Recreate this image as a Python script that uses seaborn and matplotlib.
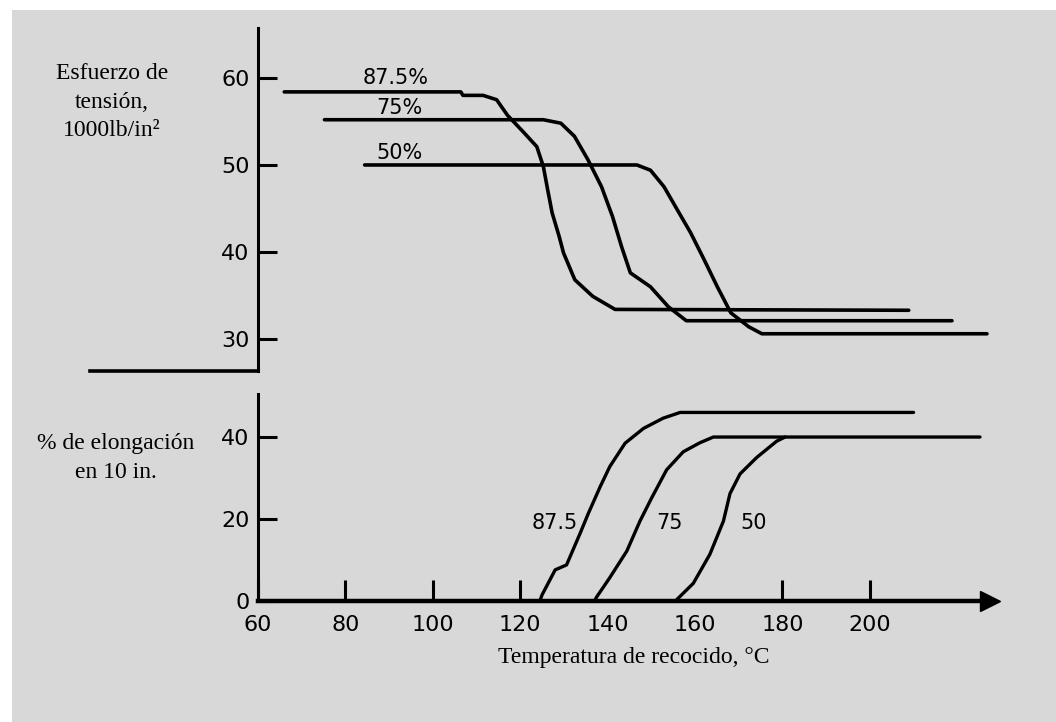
import numpy as np
import pandas as pd
import seaborn as sns
import matplotlib
matplotlib.use("Agg")
import matplotlib.pyplot as plt
from matplotlib.patches import Rectangle

# Tensile strength (1000 lb/in^2) vs annealing temperature, per cold-work level
temp_875_top = [66, 106.4, 106.9, 111.5, 114.6, 117.1, 120.7, 123.8, 125.3, 126.3,
                127.3, 128.9, 129.9, 132.5, 136.6, 141.7, 208.9]
tens_875 = [58.4, 58.4, 58.0, 58.0, 57.5, 55.7, 53.8, 52.1, 49.8, 47.1,
            44.5, 41.8, 39.9, 36.8, 34.9, 33.4, 33.3]
temp_75_top = [75.2, 125.3, 129.3, 132.4, 135.5, 138.6, 141.1, 143.2, 145.2, 149.8,
               153.9, 158.0, 218.8]
tens_75 = [55.2, 55.2, 54.8, 53.3, 50.6, 47.5, 44.1, 40.6, 37.6, 36.0, 33.7, 32.1, 32.1]
temp_50_top = [84.4, 146.7, 149.8, 152.9, 156.0, 159.0, 162.1, 165.1, 168.2, 172.3,
               175.3, 226.8]
tens_50 = [50.0, 50.0, 49.4, 47.5, 44.8, 42.2, 39.1, 36.0, 33.0, 31.4, 30.6, 30.6]

# Elongation (% in 10 in.) vs annealing temperature
temp_875_bot = [124.5, 125.0, 128.0, 130.6, 133.7, 135.6, 138.3, 140.5, 144.0, 148.2,
                152.7, 156.6, 210.0]
elong_875 = [0, 1.5, 7.6, 8.8, 16.5, 21.4, 27.9, 32.8, 38.5, 42.1, 44.6, 46.0, 46.0]
temp_75_bot = [137.0, 137.5, 140.5, 144.4, 147.4, 150.1, 153.5, 157.3, 161.1, 164.2, 225.2]
elong_75 = [0, 1.0, 5.7, 12.2, 19.5, 25.2, 32.0, 36.4, 38.6, 40.0, 40.0]
temp_50_bot = [155.5, 159.6, 163.4, 166.5, 168.0, 170.3, 174.1, 178.7, 180.6]
elong_50 = [0, 4.3, 11.4, 19.5, 26.2, 31.0, 35.0, 39.0, 40.0]

levels = ["87.5", "75", "50"]
x_ticks = [60, 80, 100, 120, 140, 160, 180, 200]
top_yticks = [30, 40, 50, 60]
bot_yticks = [0, 20, 40]

top_df = pd.concat([
    pd.DataFrame({"temp": temp_875_top, "val": tens_875, "level": "87.5"}),
    pd.DataFrame({"temp": temp_75_top, "val": tens_75, "level": "75"}),
    pd.DataFrame({"temp": temp_50_top, "val": tens_50, "level": "50"}),
])
bot_df = pd.concat([
    pd.DataFrame({"temp": temp_875_bot, "val": elong_875, "level": "87.5"}),
    pd.DataFrame({"temp": temp_75_bot, "val": elong_75, "level": "75"}),
    pd.DataFrame({"temp": temp_50_bot, "val": elong_50, "level": "50"}),
])

sns.set_style("white")
plt.rcParams["font.family"] = ["DejaVu Sans"]
plt.rcParams["text.color"] = "black"
serif = ["Liberation Serif", "DejaVu Serif"]
black = {lv: "black" for lv in levels}

fig = plt.figure(figsize=(10.56, 7.22), dpi=100, facecolor="white")
fig.patches.append(Rectangle((12 / 1056, 0), 1, 1 - 10 / 722, transform=fig.transFigure,
                             facecolor="#d8d8d8", edgecolor="none", zorder=-10))

ax_top = fig.add_axes([0.0788, 0.4859, 0.8732, 0.476])
ax_bot = fig.add_axes([0.0788, 0.1676, 0.8732, 0.2867])

sns.lineplot(data=top_df, x="temp", y="val", hue="level", palette=black,
             estimator=None, sort=False, lw=2.6, legend=False, ax=ax_top)
sns.lineplot(data=bot_df, x="temp", y="val", hue="level", palette=black,
             estimator=None, sort=False, lw=2.4, legend=False, ax=ax_bot)

for ax in (ax_top, ax_bot):
    ax.set_facecolor("none")
    ax.set_xlim(20, 231)
    ax.set_xlabel("")
    ax.set_ylabel("")
    ax.spines["top"].set_visible(False)
    ax.spines["right"].set_visible(False)
    ax.spines["left"].set_position(("data", 60))
    ax.spines["left"].set_linewidth(2.2)
    ax.spines["left"].set_color("black")
    ax.spines["bottom"].set_color("black")
    ax.tick_params(axis="y", left=True, direction="in", length=14, width=2.2, pad=6,
                   labelsize=16, colors="black")

# upper panel: tensile strength
ax_top.set_ylim(26.3, 65.8)
ax_top.set_yticks(top_yticks)
ax_top.set_xticks([])
ax_top.spines["bottom"].set_bounds(21.6, 60)
ax_top.spines["bottom"].set_linewidth(2.6)
for lab, x, y in zip(["87.5%", "75%", "50%"], [91.5, 92.4, 92.4], [60.0, 56.6, 51.4]):
    ax_top.text(x, y, lab, ha="center", va="center", fontsize=15, color="black")

# lower panel: elongation
ax_bot.set_ylim(0, 50.5)
ax_bot.set_yticks(bot_yticks)
ax_bot.set_xticks(x_ticks)
ax_bot.spines["bottom"].set_bounds(60, 226)
ax_bot.spines["bottom"].set_linewidth(3.2)
ax_bot.tick_params(axis="x", bottom=True, direction="in", length=15, width=2.2, pad=10,
                   labelsize=16, colors="black")
# the original drawing has no tick marks at 140 and 160
for t, val in zip(ax_bot.xaxis.get_major_ticks(), x_ticks):
    if val in (140, 160):
        t.tick1line.set_visible(False)
ax_bot.plot([227.5], [0], marker=">", ms=15, color="black", clip_on=False)
for lab, x in zip(levels, [127.8, 154.1, 173.5]):
    ax_bot.text(x, 19, lab, ha="center", va="center", fontsize=15, color="black")

ax_bot.set_xlabel("Temperatura de recocido, °C", fontsize=17, family=serif, color="black")
ax_bot.xaxis.set_label_coords(0.597, -0.222)

fig.text(112 / 1056, 1 - 102 / 722, "Esfuerzo de\ntensión,\n1000lb/in²",
         ha="center", va="center", fontsize=17, family=serif, linespacing=1.45,
         color="black")
fig.text(116 / 1056, 1 - 458 / 722, "% de elongación\nen 10 in.",
         ha="center", va="center", fontsize=17, family=serif, linespacing=1.45,
         color="black")

fig.savefig("out.png", dpi=100, facecolor=fig.get_facecolor())
